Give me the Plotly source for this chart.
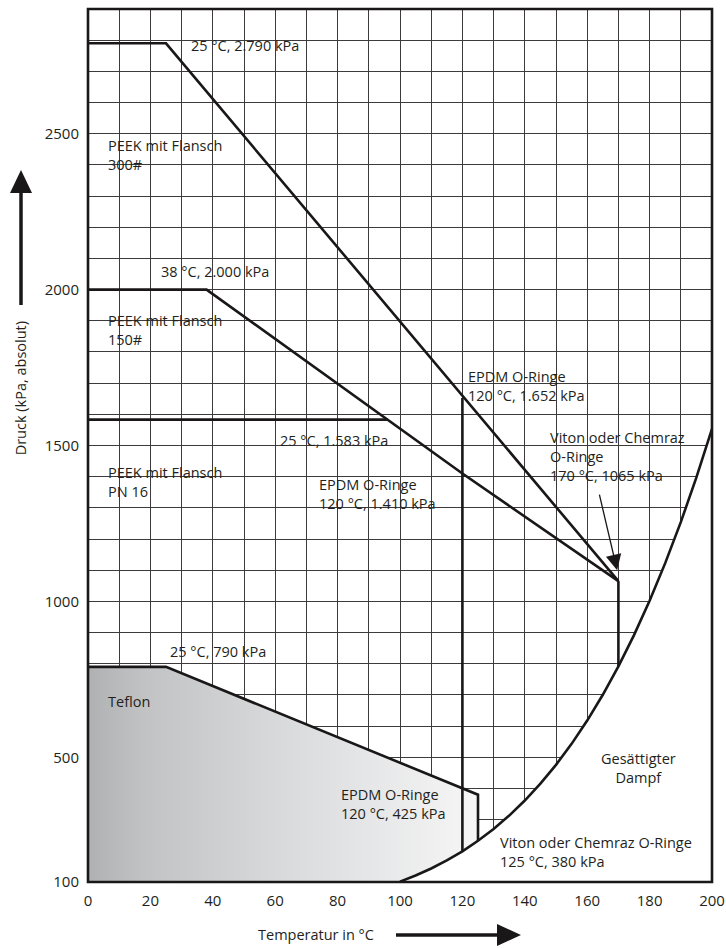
import plotly.graph_objects as go

# ---------------- data ----------------
x_tick_vals = list(range(0, 201, 10))
x_tick_labels = [str(v) if v % 20 == 0 else "" for v in x_tick_vals]
y_tick_vals = list(range(100, 2901, 100))
y_label_set = [100, 500, 1000, 1500, 2000, 2500]
y_tick_labels = [str(v) if v in y_label_set else "" for v in y_tick_vals]

# PEEK with flange 300#
peek300_t = [0, 25, 170]
peek300_p = [2790, 2790, 1065]
# PEEK with flange 150#
peek150_t = [0, 38, 120, 170]
peek150_p = [2000, 2000, 1410, 1065]
# PEEK with flange PN 16
pn16_t = [0, 96]
pn16_p = [1583, 1583]
# EPDM O-rings limit at 120 °C
epdm_t = [120, 120]
epdm_p = [198.5, 1652]
# Viton / Chemraz O-rings limit at 170 °C
viton_t = [170, 170]
viton_p = [791.7, 1065]
# Teflon
teflon_t = [0, 25, 125, 125]
teflon_p = [790, 790, 380, 232.1]
# saturated steam curve
sat_t = [100, 105, 110, 115, 120, 125, 130, 135, 140, 145, 150,
         155, 160, 165, 170, 175, 180, 185, 190, 195, 200]
sat_p = [101.3, 120.8, 143.3, 169.1, 198.5, 232.1, 270.1, 313.0, 361.3, 415.4, 475.8,
         543.1, 617.8, 700.5, 791.7, 892.0, 1002.1, 1122.7, 1254.2, 1397.6, 1553.6]

# text labels: (text, temperature, pressure)
labels = [
    ("25 °C, 2.790 kPa", 32.4, 2783),
    ("PEEK mit Flansch<br>300#", 5.8, 2433),
    ("38 °C, 2.000 kPa", 22.8, 2058),
    ("PEEK mit Flansch<br>150#", 5.8, 1869),
    ("25 °C, 1.583 kPa", 60.9, 1517),
    ("PEEK mit Flansch<br>PN 16", 5.8, 1382),
    ("EPDM O-Ringe<br>120 °C, 1.410 kPa", 73.4, 1344),
    ("EPDM O-Ringe<br>120 °C, 1.652 kPa", 121.2, 1690),
    ("Viton oder Chemraz<br>O-Ringe<br>170 °C, 1065 kPa", 147.4, 1465),
    ("25 °C, 790 kPa", 25.6, 840),
    ("Teflon", 5.8, 680),
    ("EPDM O-Ringe<br>120 °C, 425 kPa", 80.4, 350),
    ("Viton oder Chemraz O-Ringe<br>125 °C, 380 kPa", 131.4, 196),
]
steam_label = ("Gesättigter<br>Dampf", 176.3, 465)
viton_arrow_from = (163.8, 1347)
viton_arrow_to = (169.6, 1100)

# ---------------- figure ----------------
FONT = "Open Sans"
TXT = "#231f20"
LW = 2.6
FS = 14.5

fig = go.Figure()

# Teflon shaded region (gradient), bounded by saturation curve
sat_low = [(t, p) for t, p in zip(sat_t, sat_p) if 100 <= t <= 125]
poly_t = [0] + teflon_t + [t for t, _ in reversed(sat_low)] + [0]
poly_p = [100] + teflon_p + [p for _, p in reversed(sat_low)] + [100]
poly_p[-2] = 100  # curve reaches the bottom of the chart
fig.add_trace(go.Scatter(
    x=poly_t, y=poly_p, mode="none", fill="toself",
    fillgradient=dict(type="horizontal",
                      colorscale=[[0, "#b0b1b3"], [0.15, "#c2c3c5"], [0.5, "#d9dadc"],
                                  [1, "#f6f6f6"]],
                      start=0, stop=125),
    hoverinfo="skip", showlegend=False))

# Saturated-steam region (white, hides grid)
fig.add_trace(go.Scatter(
    x=sat_t + [200, 100], y=sat_p + [100, 100], mode="none", fill="toself",
    fillcolor="white", hoverinfo="skip", showlegend=False))

line_style = dict(color="#1a1718", width=LW)
for tx, py in [(peek300_t, peek300_p), (peek150_t, peek150_p), (pn16_t, pn16_p),
               (epdm_t, epdm_p), (viton_t, viton_p), (teflon_t, teflon_p),
               (sat_t, sat_p)]:
    fig.add_trace(go.Scatter(x=tx, y=py, mode="lines", line=line_style,
                             hoverinfo="skip", showlegend=False))

annotations = []
for text, t, p in labels:
    annotations.append(dict(x=t, y=p, xref="x", yref="y", text=text, showarrow=False,
                            xanchor="left", yanchor="middle", align="left",
                            font=dict(family=FONT, size=FS, color=TXT)))
annotations.append(dict(x=steam_label[1], y=steam_label[2], xref="x", yref="y",
                        text=steam_label[0], showarrow=False, xanchor="center",
                        yanchor="middle", align="center",
                        font=dict(family=FONT, size=FS, color=TXT)))
annotations.append(dict(x=viton_arrow_to[0], y=viton_arrow_to[1], xref="x", yref="y",
                        ax=viton_arrow_from[0], ay=viton_arrow_from[1],
                        axref="x", ayref="y", text="", showarrow=True,
                        arrowhead=2, arrowsize=2.4, arrowwidth=1.3, arrowcolor="#1a1718"))
# axis titles
annotations.append(dict(x=-0.108, y=0.565, xref="paper", yref="paper",
                        xanchor="center", yanchor="middle",
                        text="Druck (kPa, absolut)", textangle=-90, showarrow=False,
                        font=dict(family=FONT, size=FS, color=TXT)))
annotations.append(dict(x=0.366, y=-0.0607, xref="paper", yref="paper",
                        xanchor="center", yanchor="middle",
                        text="Temperatur in °C", showarrow=False,
                        font=dict(family=FONT, size=FS, color=TXT)))

# plot frame and big axis arrows (decorations in paper space)
W, H = 624.0, 873.0
def px(xp):
    return (xp - 88) / W
def py_(yp):
    return (882 - yp) / H

shapes = [
    dict(type="rect", xref="paper", yref="paper", x0=0, y0=0, x1=1, y1=1,
         line=dict(color="#1a1718", width=2.6), layer="above"),
    # vertical arrow
    dict(type="line", xref="paper", yref="paper", x0=px(21), x1=px(21),
         y0=py_(305), y1=py_(190), line=dict(color="#1a1718", width=3.5)),
    dict(type="path", xref="paper", yref="paper",
         path=f"M {px(10)} {py_(193)} L {px(21)} {py_(170)} L {px(32)} {py_(193)} Z",
         fillcolor="#1a1718", line=dict(width=0)),
    # horizontal arrow
    dict(type="line", xref="paper", yref="paper", x0=px(396), x1=px(500),
         y0=py_(935), y1=py_(935), line=dict(color="#1a1718", width=3.5)),
    dict(type="path", xref="paper", yref="paper",
         path=f"M {px(497)} {py_(924)} L {px(521)} {py_(935)} L {px(497)} {py_(946)} Z",
         fillcolor="#1a1718", line=dict(width=0)),
]

fig.update_layout(
    width=726, height=948,
    margin=dict(l=88, r=14, t=9, b=66),
    paper_bgcolor="white", plot_bgcolor="white",
    font=dict(family=FONT, size=FS, color=TXT),
    annotations=annotations, shapes=shapes,
    xaxis=dict(range=[0, 200], tickvals=x_tick_vals, ticktext=x_tick_labels,
               showgrid=True, gridcolor="#3c3a3b", gridwidth=1, zeroline=False,
               showline=False, ticks="", ticklabelstandoff=8, automargin=False,
               tickfont=dict(family=FONT, size=15, color=TXT)),
    yaxis=dict(range=[100, 2900], tickvals=y_tick_vals, ticktext=y_tick_labels,
               showgrid=True, gridcolor="#3c3a3b", gridwidth=1, zeroline=False,
               showline=False, ticks="", ticklabelstandoff=8, automargin=False,
               tickfont=dict(family=FONT, size=15, color=TXT)),
)

fig.write_html("out.html",
               config={"displayModeBar": False},
               post_script="document.body.style.margin='0px';"
                           "document.body.style.overflow='hidden';")
